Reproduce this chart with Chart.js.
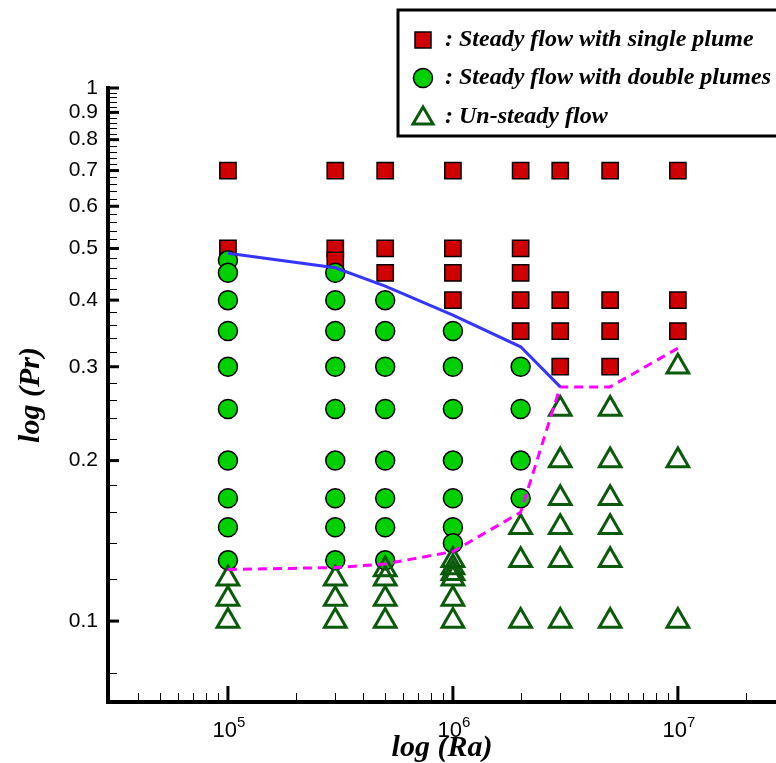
<!DOCTYPE html>
<html>
<head>
<meta charset="utf-8">
<script src="https://cdn.jsdelivr.net/npm/chart.js@4/dist/chart.umd.min.js"></script>
<style>
  html, body { margin: 0; padding: 0; background: #fff; }
  #wrap { width: 776px; height: 763px; }
</style>
</head>
<body>
<div id="wrap"><canvas id="chart1" width="776" height="763"></canvas></div>
<script>
// data
const singleRa = [1e5, 1e5, 3e5, 3e5, 3e5, 5e5, 5e5, 5e5, 1e6, 1e6, 1e6, 1e6, 2e6, 2e6, 2e6, 2e6, 2e6, 3e6, 3e6, 3e6, 3e6, 5e6, 5e6, 5e6, 5e6, 1e7, 1e7, 1e7];
const singlePr = [0.7, 0.5, 0.7, 0.5, 0.475, 0.7, 0.5, 0.45, 0.7, 0.5, 0.45, 0.4, 0.7, 0.5, 0.45, 0.4, 0.35, 0.7, 0.4, 0.35, 0.3, 0.7, 0.4, 0.35, 0.3, 0.7, 0.4, 0.35];

const doubleRa = [1e5, 1e5, 1e5, 1e5, 1e5, 1e5, 1e5, 1e5, 1e5, 1e5,
                  3e5, 3e5, 3e5, 3e5, 3e5, 3e5, 3e5, 3e5, 3e5,
                  5e5, 5e5, 5e5, 5e5, 5e5, 5e5, 5e5, 5e5,
                  1e6, 1e6, 1e6, 1e6, 1e6, 1e6, 1e6,
                  2e6, 2e6, 2e6, 2e6];
const doublePr = [0.475, 0.45, 0.4, 0.35, 0.3, 0.25, 0.2, 0.17, 0.15, 0.13,
                  0.45, 0.4, 0.35, 0.3, 0.25, 0.2, 0.17, 0.15, 0.13,
                  0.4, 0.35, 0.3, 0.25, 0.2, 0.17, 0.15, 0.13,
                  0.35, 0.3, 0.25, 0.2, 0.17, 0.15, 0.14,
                  0.3, 0.25, 0.2, 0.17];

const unsteadyRa = [1e5, 1e5, 1e5, 3e5, 3e5, 3e5, 5e5, 5e5, 5e5, 5e5,
                    1e6, 1e6, 1e6, 1e6, 1e6, 1e6, 2e6, 2e6, 2e6,
                    3e6, 3e6, 3e6, 3e6, 3e6, 3e6, 5e6, 5e6, 5e6, 5e6, 5e6, 5e6,
                    1e7, 1e7, 1e7];
const unsteadyPr = [0.12, 0.11, 0.1, 0.12, 0.11, 0.1, 0.125, 0.12, 0.11, 0.1,
                    0.13, 0.126, 0.123, 0.12, 0.11, 0.1, 0.15, 0.13, 0.1,
                    0.25, 0.2, 0.17, 0.15, 0.13, 0.1, 0.25, 0.2, 0.17, 0.15, 0.13, 0.1,
                    0.3, 0.2, 0.1];

// solid blue boundary (single / double plume)
const plumeLineRa = [1e5, 3e5, 5e5, 1e6, 2e6, 3e6];
const plumeLinePr = [0.49, 0.46, 0.425, 0.375, 0.327, 0.275];
// dashed magenta boundary (steady / unsteady)
const steadyLineRa = [1e5, 3e5, 5e5, 1e6, 2e6, 3e6, 5e6, 1e7];
const steadyLinePr = [0.125, 0.126, 0.128, 0.135, 0.16, 0.275, 0.275, 0.325];

const xTickValues = [1e5, 1e6, 1e7];
const xTickExponents = ['5', '6', '7'];
const yTickValues = [0.1, 0.2, 0.3, 0.4, 0.5, 0.6, 0.7, 0.8, 0.9, 1];
const yTickLabels = ['0.1', '0.2', '0.3', '0.4', '0.5', '0.6', '0.7', '0.8', '0.9', '1'];
const xMinorTicks = [4e4, 5e4, 6e4, 7e4, 8e4, 9e4, 2e5, 3e5, 4e5, 5e5, 6e5, 7e5, 8e5, 9e5,
                     2e6, 3e6, 4e6, 5e6, 6e6, 7e6, 8e6, 9e6, 2e7];
const yMinorTicks = [];
for (let i = 8; i < 100; i += 2) {
    if (i % 10 != 0) yMinorTicks.push(i / 100);
}

const legendNames = ['Steady flow with single plume', 'Steady flow with double plumes', 'Un-steady flow'];

function pairs(xs, ys) {
    return xs.map(function (x, i) { return {x: x, y: ys[i]}; });
}

// inward ticks, tecplot style, plus the 10^n labels
const innerTicks = {
    id: 'innerTicks',
    beforeDatasetsDraw(chart) {
        const ctx = chart.ctx;
        const xs = chart.scales.x, ys = chart.scales.y;
        const left = chart.chartArea.left, bottom = chart.chartArea.bottom;
        ctx.save();
        ctx.strokeStyle = '#000';
        ctx.lineWidth = 1;
        yMinorTicks.forEach(function (v) {
            const y = Math.round(ys.getPixelForValue(v)) + 0.5;
            ctx.beginPath(); ctx.moveTo(left, y); ctx.lineTo(left + 9, y); ctx.stroke();
        });
        xMinorTicks.forEach(function (v) {
            const x = Math.round(xs.getPixelForValue(v)) + 0.5;
            ctx.beginPath(); ctx.moveTo(x, bottom); ctx.lineTo(x, bottom - 9); ctx.stroke();
        });
        ctx.lineWidth = 3;
        yTickValues.forEach(function (v) {
            const y = ys.getPixelForValue(v);
            ctx.beginPath(); ctx.moveTo(left, y); ctx.lineTo(left + 11, y); ctx.stroke();
        });
        xTickValues.forEach(function (v, i) {
            const x = xs.getPixelForValue(v);
            ctx.beginPath(); ctx.moveTo(x, bottom); ctx.lineTo(x, bottom - 16); ctx.stroke();
            // label 10 with raised exponent
            ctx.fillStyle = '#000';
            ctx.textBaseline = 'alphabetic';
            ctx.textAlign = 'right';
            ctx.font = '22px "Liberation Sans"';
            ctx.fillText('10', x + 9, bottom + 35);
            ctx.textAlign = 'left';
            ctx.font = '15px "Liberation Sans"';
            ctx.fillText(xTickExponents[i], x + 9, bottom + 25);
        });
        ctx.restore();
    }
};

// boxed legend in the top right corner
const legendBox = {
    id: 'legendBox',
    afterDraw(chart) {
        const ctx = chart.ctx;
        ctx.save();
        ctx.fillStyle = '#fff';
        ctx.fillRect(398, 10, 400, 126);
        ctx.strokeStyle = '#000';
        ctx.lineWidth = 3;
        ctx.strokeRect(398, 10, 400, 126);

        const mx = 423;
        const rows = [40, 78, 117];
        // square
        ctx.fillStyle = '#d00000';
        ctx.lineWidth = 1.5;
        ctx.fillRect(mx - 8, rows[0] - 8, 16, 16);
        ctx.strokeRect(mx - 8, rows[0] - 8, 16, 16);
        // circle
        ctx.beginPath();
        ctx.arc(mx, rows[1], 9.5, 0, Math.PI * 2);
        ctx.fillStyle = '#00d000';
        ctx.fill();
        ctx.stroke();
        // triangle
        ctx.beginPath();
        ctx.moveTo(mx, rows[2] - 10);
        ctx.lineTo(mx + 10, rows[2] + 7);
        ctx.lineTo(mx - 10, rows[2] + 7);
        ctx.closePath();
        ctx.strokeStyle = '#0b5a0b';
        ctx.lineWidth = 3;
        ctx.stroke();

        ctx.fillStyle = '#000';
        ctx.font = 'bold italic 24px "Liberation Serif"';
        ctx.textBaseline = 'middle';
        legendNames.forEach(function (name, i) {
            ctx.fillText(': ' + name, 445, rows[i]);
        });
        ctx.restore();
    }
};

var myChart = document.getElementById('chart1').getContext('2d');
var chart = new Chart(myChart, {
    type: 'scatter',
    data: {
        datasets: [
            {
                label: 'plume boundary',
                data: pairs(plumeLineRa, plumeLinePr),
                showLine: true,
                borderColor: '#3535ff',
                borderWidth: 3,
                pointRadius: 0,
                fill: false
            },
            {
                label: 'steady boundary',
                data: pairs(steadyLineRa, steadyLinePr),
                showLine: true,
                borderColor: '#ff00ff',
                borderWidth: 3,
                borderDash: [9, 6],
                pointRadius: 0,
                fill: false
            },
            {
                label: legendNames[2],
                data: pairs(unsteadyRa, unsteadyPr),
                pointStyle: 'triangle',
                pointRadius: 12.5,
                backgroundColor: 'rgba(0,0,0,0)',
                borderColor: '#0b5a0b',
                borderWidth: 3
            },
            {
                label: legendNames[1],
                data: pairs(doubleRa, doublePr),
                pointStyle: 'circle',
                pointRadius: 9.5,
                backgroundColor: '#00d000',
                borderColor: '#000',
                borderWidth: 1.5
            },
            {
                label: legendNames[0],
                data: pairs(singleRa, singlePr),
                pointStyle: 'rect',
                pointRadius: 11.5,
                backgroundColor: '#d00000',
                borderColor: '#000',
                borderWidth: 1.5
            }
        ]
    },
    options: {
        responsive: false,
        animation: false,
        devicePixelRatio: 1,
        layout: { autoPadding: false, padding: { top: 88, left: 0, right: 0, bottom: 0 } },
        plugins: {
            legend: { display: false },
            tooltip: { enabled: false }
        },
        scales: {
            x: {
                type: 'logarithmic',
                min: 2.93e4,
                max: 2.73e7,
                afterFit: function (scale) { scale.height = 61; },
                afterBuildTicks: function (scale) {
                    scale.ticks = xTickValues.map(function (v) { return {value: v}; });
                },
                grid: { display: false, drawTicks: false },
                border: { display: true, color: '#000', width: 4 },
                ticks: { display: false },
                title: {
                    display: true,
                    text: 'log (Ra)',
                    color: '#000',
                    font: { family: 'Liberation Serif', size: 30, style: 'italic', weight: 'bold', lineHeight: 1.0 },
                    padding: { top: 0, bottom: 0 }
                }
            },
            y: {
                type: 'logarithmic',
                min: 0.0705,
                max: 1,
                afterFit: function (scale) { scale.width = 108; },
                afterBuildTicks: function (scale) {
                    scale.ticks = yTickValues.map(function (v) { return {value: v}; });
                },
                grid: { display: false, drawTicks: false },
                border: { display: true, color: '#000', width: 4 },
                ticks: {
                    autoSkip: false,
                    padding: 10,
                    color: '#000',
                    font: { family: 'Liberation Sans', size: 21 },
                    callback: function (v) { return yTickLabels[yTickValues.indexOf(v)]; }
                },
                title: {
                    display: true,
                    text: 'log (Pr)',
                    color: '#000',
                    font: { family: 'Liberation Serif', size: 30, style: 'italic', weight: 'bold' },
                    padding: { top: 13, bottom: 0 }
                }
            }
        }
    },
    plugins: [innerTicks, legendBox]
});
</script>
</body>
</html>
